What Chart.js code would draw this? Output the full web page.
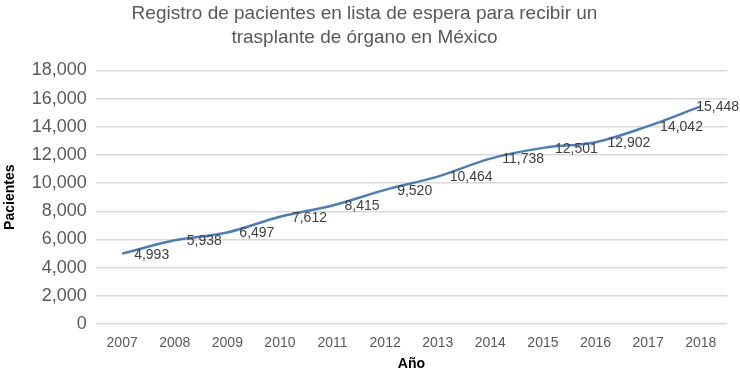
<!DOCTYPE html>
<html>
<head>
<meta charset="utf-8">
<script src="https://cdn.jsdelivr.net/npm/chart.js@4/dist/chart.umd.min.js"></script>
<style>
  html, body { margin: 0; padding: 0; background: #fff; }
  #wrap { width: 740px; height: 371px; }
</style>
</head>
<body>
<div id="wrap"><canvas id="grafico" width="740" height="371"></canvas></div>
<script>
const anios = ['2007', '2008', '2009', '2010', '2011', '2012', '2013', '2014', '2015', '2016', '2017', '2018'];
const pacientes = [4993, 5938, 6497, 7612, 8415, 9520, 10464, 11738, 12501, 12902, 14042, 15448];
const ticksY = [0, 2000, 4000, 6000, 8000, 10000, 12000, 14000, 16000, 18000];

// etiquetas de datos a la derecha de cada punto
const etiquetas = {
    id: 'etiquetas',
    afterDatasetsDraw(chart) {
        const ctx = chart.ctx;
        const meta = chart.getDatasetMeta(0);
        ctx.save();
        ctx.font = '14px "Liberation Sans", Arial, sans-serif';
        ctx.fillStyle = '#404040';
        ctx.textAlign = 'left';
        ctx.textBaseline = 'middle';
        meta.data.forEach((p, i) => {
            const txt = pacientes[i].toLocaleString('en-US');
            const w = ctx.measureText(txt).width;
            let x = p.x + 12;
            if (x + w > chart.width - 1) x = chart.width - 1 - w;
            ctx.fillText(txt, x, p.y + 1);
        });
        ctx.restore();
    }
};

const ctx = document.getElementById('grafico').getContext('2d');
const grafico = new Chart(ctx, {
    type: 'line',
    data: {
        labels: anios,
        datasets: [{
            data: pacientes,
            borderColor: '#4a7ebb',
            borderWidth: 2.5,
            pointRadius: 0,
            cubicInterpolationMode: 'monotone',
            fill: false
        }]
    },
    plugins: [etiquetas],
    options: {
        responsive: false,
        animation: false,
        layout: {
            padding: { left: 2, right: 13, top: 1, bottom: -2 }
        },
        plugins: {
            legend: { display: false },
            tooltip: { enabled: false },
            title: {
                display: true,
                text: ['Registro de pacientes en lista de espera para recibir un', 'trasplante de órgano en México'],
                color: '#595959',
                font: { family: '"Liberation Sans", Arial, sans-serif', size: 19, weight: 'normal', lineHeight: 1.3 },
                padding: { top: 0, bottom: 20 }
            }
        },
        scales: {
            x: {
                offset: true,
                grid: { display: false, drawTicks: false },
                border: { display: false },
                afterFit: (axis) => { axis.height = 49; },
                ticks: {
                    color: '#595959',
                    font: { family: '"Liberation Sans", Arial, sans-serif', size: 14 },
                    padding: 11,
                    maxRotation: 0
                },
                title: {
                    display: true,
                    text: 'Año',
                    color: '#000',
                    font: { family: '"Liberation Sans", Arial, sans-serif', size: 14, weight: 'bold' },
                    padding: { top: 0, bottom: 0 }
                }
            },
            y: {
                min: 0,
                max: 18000,
                afterBuildTicks: (axis) => { axis.ticks = ticksY.map(v => ({ value: v })); },
                grid: { color: '#d9d9d9', lineWidth: 1.5, drawTicks: false },
                border: { display: false },
                ticks: {
                    color: '#595959',
                    font: { family: '"Liberation Sans", Arial, sans-serif', size: 18 },
                    padding: 9,
                    callback: (v) => v.toLocaleString('en-US')
                },
                title: {
                    display: true,
                    text: 'Pacientes',
                    color: '#000',
                    font: { family: '"Liberation Sans", Arial, sans-serif', size: 14, weight: 'bold' },
                    padding: { top: 0, bottom: 4 }
                }
            }
        }
    }
});
</script>
</body>
</html>
